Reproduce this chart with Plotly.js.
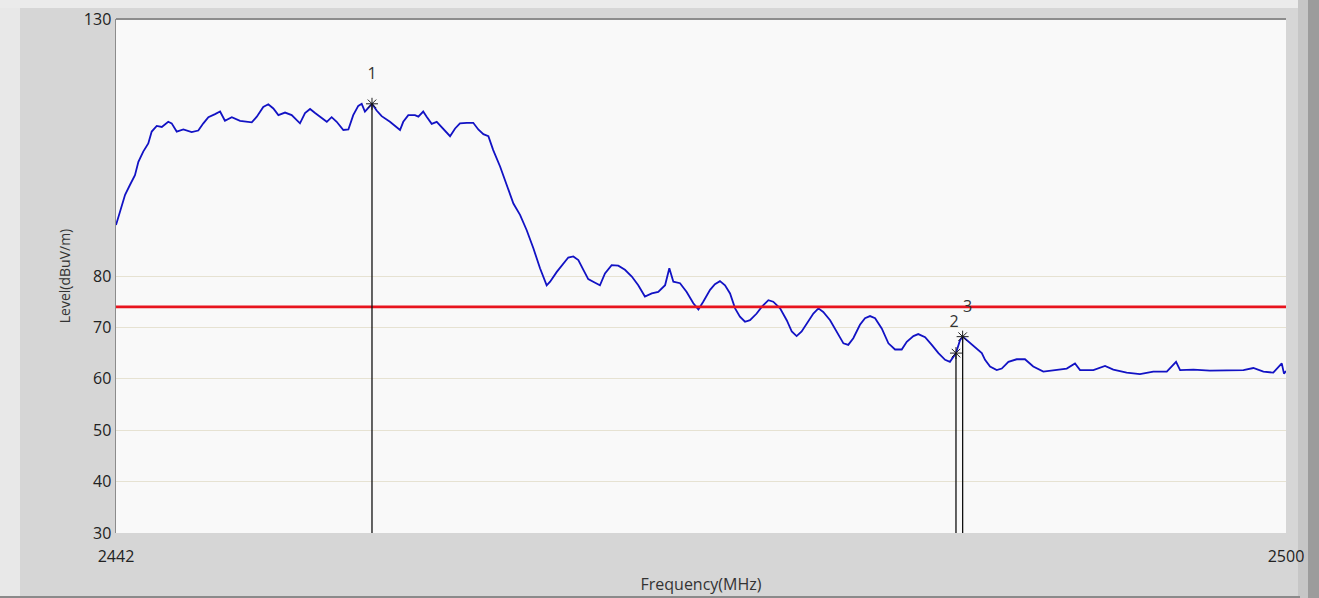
<!DOCTYPE html>
<html>
<head>
<meta charset="utf-8">
<script src="https://cdn.plot.ly/plotly-3.0.1.min.js"></script>
<style>
html,body{margin:0;padding:0;background:#d6d6d6;}
#chart{width:1319px;height:598px;}
</style>
</head>
<body>
<div id="chart"></div>
<script>
// Spectrum trace (MHz, dBuV/m)
var freq = [
  2442.00,2442.20,2442.45,2442.69,2442.94,2443.11,2443.35,2443.60,2443.77,2444.02,
  2444.27,2444.59,2444.76,2445.01,2445.34,2445.75,2446.08,2446.33,2446.58,2446.91,
  2447.16,2447.40,2447.74,2448.15,2448.73,2448.98,2449.30,2449.55,2449.80,2450.05,
  2450.38,2450.71,2450.96,2451.12,2451.37,2451.62,2451.87,2452.11,2452.45,2452.69,
  2452.94,2453.27,2453.52,2453.76,2454.01,2454.18,2454.34,2454.69,2454.92,2455.17,
  2455.58,2456.08,2456.24,2456.49,2456.82,2456.99,2457.23,2457.40,2457.65,2457.90,
  2458.23,2458.56,2458.81,2459.05,2459.39,2459.71,2459.96,2460.21,2460.46,2460.70,
  2461.04,2461.37,2461.70,2462.03,2462.36,2462.69,2463.02,2463.35,2463.52,2463.85,
  2464.17,2464.42,2464.67,2464.92,2465.17,2465.41,2465.75,2465.99,2466.24,2466.57,
  2466.90,2467.23,2467.57,2467.89,2468.22,2468.56,2468.88,2469.22,2469.43,2469.63,
  2469.96,2470.29,2470.62,2470.87,2471.11,2471.45,2471.69,2471.94,2472.19,2472.44,
  2472.69,2472.93,2473.18,2473.43,2473.76,2474.01,2474.34,2474.58,2474.92,2475.25,
  2475.50,2475.74,2475.99,2476.32,2476.57,2476.82,2477.06,2477.40,2477.73,2478.06,
  2478.30,2478.55,2478.88,2479.13,2479.38,2479.63,2479.96,2480.29,2480.62,2480.95,
  2481.20,2481.53,2481.77,2482.11,2482.44,2482.77,2483.10,2483.34,2483.64,2483.84,
  2483.97,2484.25,2484.58,2484.92,2485.08,2485.33,2485.66,2485.91,2486.24,2486.65,
  2487.06,2487.47,2487.97,2488.63,2489.13,2489.54,2489.79,2490.45,2491.03,2491.44,
  2492.10,2492.76,2493.42,2494.09,2494.55,2494.75,2495.41,2496.23,2497.06,2497.89,
  2498.38,2498.88,2499.37,2499.79,2499.90,2500.00];
var level = [
  89.9,92.5,95.8,97.7,99.6,102.2,104.2,105.8,108.1,109.2,
  109.0,110.0,109.7,108.1,108.5,108.0,108.3,109.7,110.9,111.5,
  112.0,110.2,110.9,110.2,109.9,111.0,112.9,113.4,112.6,111.3,
  111.8,111.3,110.4,109.7,111.7,112.5,111.7,111.0,110.0,110.9,
  110.0,108.4,108.5,111.3,113.1,113.5,112.0,113.5,112.2,111.1,
  110.0,108.4,110.0,111.3,111.3,111.0,112.0,111.0,109.6,110.0,
  108.7,107.2,108.7,109.7,109.8,109.8,108.5,107.6,107.2,104.5,
  101.3,97.7,94.1,91.9,88.9,85.4,81.5,78.2,78.9,80.8,
  82.5,83.6,83.8,83.1,81.2,79.4,78.7,78.2,80.5,82.1,
  82.0,81.2,79.9,78.2,76.0,76.6,76.9,78.2,81.5,78.9,
  78.6,76.9,74.7,73.5,75.0,77.3,78.4,79.0,78.2,76.6,
  73.7,72.1,71.1,71.4,72.7,74.0,75.3,75.0,73.7,71.4,
  69.2,68.3,69.2,71.1,72.7,73.7,73.0,71.4,69.2,66.9,
  66.6,67.9,70.5,71.8,72.2,71.8,69.8,66.9,65.7,65.7,
  67.2,68.3,68.7,68.1,66.6,65.0,63.7,63.3,65.0,67.5,
  68.2,67.2,66.1,65.0,63.7,62.4,61.7,62.0,63.3,63.8,
  63.8,62.4,61.4,61.7,62.0,63.0,61.7,61.7,62.5,61.8,
  61.2,60.9,61.4,61.4,63.3,61.7,61.8,61.6,61.7,61.7,
  62.1,61.4,61.2,63.0,61.0,61.5];

// Limit line
var limitFreq = [2442, 2500];
var limitLevel = [74, 74];

// Markers
var markerLabels = ["1", "2", "3"];
var markerFreq = [2454.69, 2483.64, 2483.97];
var markerLevel = [113.5, 65.0, 68.2];

// Axis ticks
var yTickVals = [30, 40, 50, 60, 70, 80, 130];
var xTickVals = [2442, 2500];

var labelOffsetY = [5.6, 5.9, 5.6];
var labelOffsetX = [0, -0.1, 0.25];

var FONT = 'Open Sans, sans-serif';

var traces = [
  {x: freq, y: level, type: 'scatter', mode: 'lines',
   line: {color: '#1212c4', width: 1.8}},
  {x: limitFreq, y: limitLevel, type: 'scatter', mode: 'lines',
   line: {color: '#e8141e', width: 2.6}},
  {x: markerFreq, y: markerLevel, type: 'scatter', mode: 'markers',
   marker: {symbol: 'asterisk-open', size: 10, color: '#202020', line: {color: '#202020', width: 1}}},
  {x: markerFreq.map(function(f, i){ return f + labelOffsetX[i]; }),
   y: markerLevel.map(function(v, i){ return v + labelOffsetY[i]; }),
   text: markerLabels, type: 'scatter', mode: 'text',
   textfont: {family: FONT, size: 16, color: '#333333'}}
];

var shapes = [];
// frame decorations (paper space)
function px(p){ return (p - 116) / 1170; }
function py(p){ return (533 - p) / 514; }
shapes.push({type: 'rect', xref: 'paper', yref: 'paper', x0: px(0), x1: px(20), y0: py(598), y1: py(0),
  fillcolor: '#e8e8e8', line: {width: 0}, layer: 'below'});
shapes.push({type: 'rect', xref: 'paper', yref: 'paper', x0: px(0), x1: px(1300), y0: py(8), y1: py(0),
  fillcolor: '#ebebeb', line: {width: 0}, layer: 'below'});
shapes.push({type: 'rect', xref: 'paper', yref: 'paper', x0: px(1298), x1: px(1308), y0: py(598), y1: py(0),
  fillcolor: '#c6c6c6', line: {width: 0}, layer: 'below'});
shapes.push({type: 'rect', xref: 'paper', yref: 'paper', x0: px(1308), x1: px(1319), y0: py(598), y1: py(0),
  fillcolor: '#9c9c9c', line: {width: 0}, layer: 'below'});
shapes.push({type: 'line', xref: 'paper', yref: 'paper', x0: px(0), x1: px(1300), y0: py(597), y1: py(597),
  line: {color: '#8a8a8a', width: 2}});
// top border of plot
shapes.push({type: 'line', xref: 'paper', yref: 'paper', x0: 0, x1: 1, y0: 1, y1: 1,
  line: {color: '#8c8c8c', width: 2}});
// marker vertical lines
for (var i = 0; i < markerFreq.length; i++) {
  shapes.push({type: 'line', xref: 'x', yref: 'y', x0: markerFreq[i], x1: markerFreq[i],
    y0: 30, y1: markerLevel[i], line: {color: '#101010', width: 1.3}});
}

var layout = {
  width: 1319, height: 598,
  paper_bgcolor: '#d6d6d6', plot_bgcolor: '#f9f9f9',
  margin: {l: 116, r: 33, t: 19, b: 65},
  showlegend: false,
  font: {family: FONT, size: 16, color: '#222222'},
  xaxis: {
    range: [2442, 2500], tickvals: xTickVals, ticktext: xTickVals.map(String),
    showgrid: false, zeroline: false, showline: false, ticks: '',
    ticklabelstandoff: 12,
    tickfont: {family: FONT, size: 16, color: '#222222'},
    title: {text: 'Frequency(MHz)', standoff: 12,
            font: {family: FONT, size: 16, color: '#333333'}}
  },
  yaxis: {
    range: [30, 130], tickvals: yTickVals, ticktext: yTickVals.map(String),
    showgrid: true, gridcolor: '#e6e2d2', gridwidth: 1,
    zeroline: false, showline: true, linecolor: '#8c8c8c', linewidth: 1.5, ticks: '',
    tickfont: {family: FONT, size: 16, color: '#222222'},
    title: {text: 'Level(dBuV/m)', standoff: 10,
            font: {family: FONT, size: 14, color: '#333333'}}
  },
  shapes: shapes
};

Plotly.newPlot('chart', traces, layout, {displayModeBar: false, staticPlot: true});
</script>
</body>
</html>
